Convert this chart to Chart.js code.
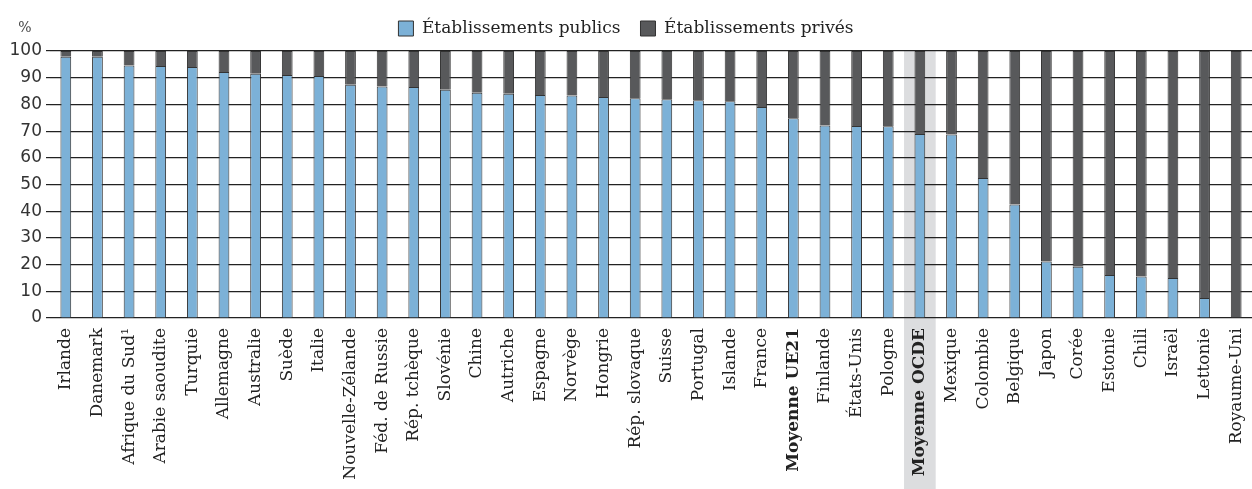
<!DOCTYPE html>
<html><head><meta charset="utf-8">
<script src="https://cdn.jsdelivr.net/npm/chart.js@4.4.1/dist/chart.umd.min.js"></script>
<style>html,body{margin:0;padding:0;background:#fff;}#wrap{width:1252px;height:489px;position:relative;}</style>
</head><body><div id="wrap"><canvas id="c"></canvas></div>
<script>
const categories = ['Irlande','Danemark','Afrique du Sud¹','Arabie saoudite','Turquie','Allemagne','Australie','Suède','Italie','Nouvelle-Zélande','Féd. de Russie','Rép. tchèque','Slovénie','Chine','Autriche','Espagne','Norvège','Hongrie','Rép. slovaque','Suisse','Portugal','Islande','France','Moyenne UE21','Finlande','États-Unis','Pologne','Moyenne OCDE','Mexique','Colombie','Belgique','Japon','Corée','Estonie','Chili','Israël','Lettonie','Royaume-Uni'];
const publicValues = [97.8,97.8,94.6,94.4,94.0,92.1,91.5,91.0,90.6,87.4,86.7,86.5,85.5,84.4,84.0,83.5,83.3,82.8,82.3,81.9,81.6,81.2,79.0,74.8,72.1,71.9,71.8,68.9,68.7,52.4,42.5,21.2,19.2,16.1,15.5,15.0,7.5,0];
const privateValues = [2.2,2.2,5.4,5.6,6.0,7.9,8.5,9.0,9.4,12.6,13.3,13.5,14.5,15.6,16.0,16.5,16.7,17.2,17.7,18.1,18.4,18.8,21.0,25.2,27.9,28.1,28.2,31.1,31.3,47.6,57.5,78.8,80.8,83.9,84.5,85.0,92.5,100];
const seriesLabels = ['Établissements publics','Établissements privés'];
const yTickValues = [0,10,20,30,40,50,60,70,80,90,100];
const unitLabel = '%';
const highlightLabel = 'Moyenne OCDE';
const boldLabels = ['Moyenne UE21','Moyenne OCDE'];

const bandPlugin = {
  id: 'band',
  beforeInit(chart){
    const lg = chart.legend;
    if (lg) { const f = lg.fit; lg.fit = function(){ f.call(this); this.height += 4; }; }
  },
  beforeDraw(chart){
    const x = chart.scales.x, ctx = chart.ctx;
    const idx = categories.indexOf(highlightLabel);
    const c = x.getPixelForValue(idx);
    const w = x.getPixelForValue(1) - x.getPixelForValue(0);
    ctx.save();
    ctx.fillStyle = '#dcdddf';
    ctx.fillRect(c - w/2, chart.chartArea.top, w, chart.height - chart.chartArea.top);
    ctx.restore();
  },
  afterDraw(chart){
    const ctx = chart.ctx;
    ctx.save();
    ctx.fillStyle = '#444';
    ctx.font = '14px "DejaVu Serif"';
    ctx.textAlign = 'center';
    ctx.textBaseline = 'middle';
    ctx.fillText(unitLabel, 25, 28);
    ctx.restore();
  }
};

new Chart(document.getElementById('c'), {
  type: 'bar',
  data: {
    labels: categories,
    datasets: [
      {label: seriesLabels[0], data: publicValues, backgroundColor: '#7cb1d7', borderColor: '#333', borderWidth: 1},
      {label: seriesLabels[1], data: privateValues, backgroundColor: '#58595b', borderColor: '#333', borderWidth: 1}
    ]
  },
  options: {
    responsive: true, maintainAspectRatio: false, animation: false, devicePixelRatio: 1,
    datasets: {bar: {barPercentage: 0.34, categoryPercentage: 1.0}},
    layout: {padding: 0},
    plugins: {
      tooltip: {enabled: false},
      legend: {
        position: 'top',
        labels: {boxWidth: 15, boxHeight: 15, padding: 20, color: '#222', font: {family: 'DejaVu Serif', size: 17}}
      }
    },
    scales: {
      x: {
        stacked: true,
        grid: {display: false},
        border: {display: false},
        afterFit(s){ s.height = 171; s.paddingLeft = 0; s.paddingRight = 0; },
        ticks: {
          autoSkip: false, maxRotation: 90, minRotation: 90, padding: 2, color: '#222',
          font: (c) => ({family: 'DejaVu Serif', size: 17, weight: boldLabels.includes(categories[c.index]) ? 'bold' : 'normal'})
        }
      },
      y: {
        stacked: true, min: 0, max: 100,
        afterFit(s){ s.width = 50; },
        afterBuildTicks(s){ s.ticks = yTickValues.map(v => ({value: v})); },
        border: {display: false},
        grid: {color: '#222', lineWidth: 1.2, tickLength: 4},
        ticks: {padding: 4, color: '#333', font: {family: 'DejaVu Sans', size: 17}}
      }
    }
  },
  plugins: [bandPlugin]
});
</script></body></html>
